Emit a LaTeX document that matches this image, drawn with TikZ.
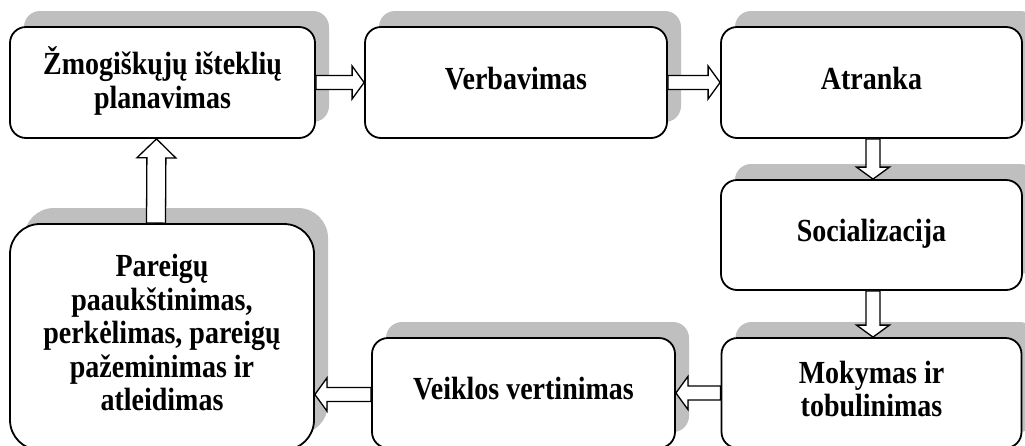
\documentclass[tikz,border=0pt]{standalone}
\usepackage{fontspec}
\setmainfont{Liberation Serif}
\usetikzlibrary{calc,shadows}

% labels are set a little taller than the face's natural proportions
\newcommand{\stagetext}[1]{\scalebox{1}[1.15]{\begin{tabular}{@{}c@{}}#1\end{tabular}}}

\begin{document}
\begin{tikzpicture}[x=1pt,y=-1pt,
  stage/.style={draw=black, line width=1.8pt, fill=white, rounded corners=16pt,
    align=center, inner sep=0pt,
    font=\fontsize{28}{29}\selectfont\bfseries,
    drop shadow={shadow xshift=14pt, shadow yshift=16pt, fill=black!25, opacity=1}},
  % hollow block arrow: #1 half shaft width, #2 half head width, #3 head length
  fatarrow/.style n args={3}{draw=black, fill=white, line width=1.3pt, line join=miter,
    to path={let \p1=(\tikztostart), \p2=(\tikztotarget),
        \n1={atan2(\y2-\y1,\x2-\x1)} in
      ($(\p1)+(\n1+90:#1)$)
      -- ($(\p2)+(\n1:-#3)+(\n1+90:#1)$)
      -- ($(\p2)+(\n1:-#3)+(\n1+90:#2)$)
      -- (\p2)
      -- ($(\p2)+(\n1:-#3)+(\n1-90:#2)$)
      -- ($(\p2)+(\n1:-#3)+(\n1-90:#1)$)
      -- ($(\p1)+(\n1-90:#1)$)
      -- cycle}},
  thin arrow/.style={fatarrow={7pt}{16.5pt}{12pt}},
  wide arrow/.style={fatarrow={9.5pt}{19.5pt}{19pt}}
]
\useasboundingbox (0,0) rectangle (1025,445);

% process stages
\node[stage, minimum width=305pt, minimum height=111pt] (plan) at (162.5,82.5)
  {\stagetext{Žmogiškųjų išteklių\\planavimas}};
\node[stage, minimum width=302pt, minimum height=111pt] (verb) at (516,82.5)
  {\stagetext{Verbavimas}};
\node[stage, minimum width=301pt, minimum height=111pt] (atr) at (871.5,82.5)
  {\stagetext{Atranka}};
\node[stage, minimum width=301pt, minimum height=110pt] (soc) at (871.5,235)
  {\stagetext{Socializacija}};
\node[stage, minimum width=300pt, minimum height=110pt] (mok) at (871.5,393)
  {\stagetext{Mokymas ir\\tobulinimas}};
\node[stage, minimum width=303pt, minimum height=110pt] (veik) at (523.5,393)
  {\stagetext{Veiklos vertinimas}};
\node[stage, rounded corners=30pt, minimum width=304pt, minimum height=226pt] (par) at (162,337)
  {\stagetext{Pareigų\\paaukštinimas,\\perkėlimas, pareigų\\pažeminimas ir\\atleidimas}};

% flow between stages
\draw[thin arrow] (plan.east) to (verb.west);
\draw[thin arrow] (verb.east) to (atr.west);
\draw[thin arrow] ([xshift=1.5pt]atr.south) to ([xshift=1.5pt]soc.north);
\draw[thin arrow] ([xshift=1.5pt]soc.south) to ([xshift=1.5pt]mok.north);
\draw[thin arrow] (mok.west) to (veik.east);
\draw[thin arrow] ([yshift=-1.5pt]veik.west) to ([yshift=-1.5pt]veik.west -| par.east);
\draw[wide arrow] ([xshift=-6pt]par.north) to ([xshift=-6pt]plan.south);
\end{tikzpicture}
\end{document}
